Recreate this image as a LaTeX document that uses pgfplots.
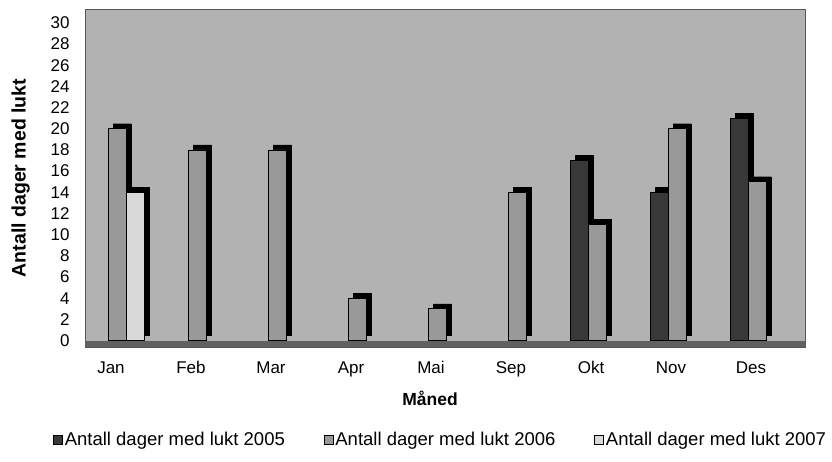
\documentclass[border=0pt]{standalone}
\usepackage{pgfplots}
\pgfplotsset{compat=1.18}
\usepackage{fontspec}
\setmainfont{Liberation Sans}
\definecolor{wallc}{gray}{0.70}
\definecolor{floorc}{gray}{0.38}
\definecolor{c05}{gray}{0.22}
\definecolor{c06}{gray}{0.60}
\definecolor{c07}{gray}{0.85}
\pgfplotsset{
  mylegend/.style={legend image code/.code={\draw[##1,line width=0.5pt] (0pt,-4pt) rectangle (9pt,5pt);}},
}
\begin{document}
\begin{tikzpicture}[x=1pt,y=1pt]
\path (0,0) rectangle (832,461);
\begin{axis}[
  at={(85pt,114pt)}, anchor=south west,
  scale only axis, width=720pt, height=338pt,
  xmin=-0.325, xmax=8.675, ymin=-0.6, ymax=31.3,
  xtick={0,...,8},
  xticklabels={Jan,Feb,Mar,Apr,Mai,Sep,Okt,Nov,Des},
  ytick={0,2,...,30},
  major tick length=0pt,
  axis line style={draw=gray!70!black, line width=0.6pt},
  axis background/.style={fill=wallc},
  tick label style={font=\fontsize{17}{20}\selectfont},
  /pgf/number format/assume math mode=true,
  yticklabel style={xshift=-12pt},
  xticklabel style={yshift=-11pt},
  xlabel={\fontsize{17.5}{20}\selectfont\bfseries Måned},
  ylabel={\fontsize{19.5}{22}\selectfont\bfseries Antall dager med lukt},
  xlabel style={xshift=-15pt, yshift=-7pt},
  ylabel style={yshift=14pt},
  legend columns=3,
  legend style={draw=none, fill=none, at={(0.494,-0.275)}, anchor=center,
    font=\fontsize{18.5}{22}\selectfont,
    /tikz/every even column/.append style={column sep=37pt}},
  legend cell align=left,
]
\fill[floorc] (axis cs:-0.325,-0.6) rectangle (axis cs:8.675,0);
% 2005
\addplot[ybar, bar width=18pt, bar shift=-12pt, fill=black, draw=black, xshift=5pt, yshift=5pt, forget plot]
  coordinates {(6,17) (7,14) (8,21)};
\addplot[ybar, bar width=18pt, bar shift=-12pt, fill=c05, draw=black, line width=0.8pt, mylegend]
  coordinates {(6,17) (7,14) (8,21)};
\addlegendentry{Antall dager med lukt 2005}
% 2006
\addplot[ybar, bar width=18pt, bar shift=6pt, fill=black, draw=black, xshift=5pt, yshift=5pt, forget plot]
  coordinates {(0,20) (1,18) (2,18) (3,4) (4,3) (5,14) (6,11) (7,20) (8,15)};
\addplot[ybar, bar width=18pt, bar shift=6pt, fill=c06, draw=black, line width=0.8pt, mylegend]
  coordinates {(0,20) (1,18) (2,18) (3,4) (4,3) (5,14) (6,11) (7,20) (8,15)};
\addlegendentry{Antall dager med lukt 2006}
% 2007
\addplot[ybar, bar width=18pt, bar shift=24pt, fill=black, draw=black, xshift=5pt, yshift=5pt, forget plot]
  coordinates {(0,14)};
\addplot[ybar, bar width=18pt, bar shift=24pt, fill=c07, draw=black, line width=0.8pt, mylegend]
  coordinates {(0,14)};
\addlegendentry{Antall dager med lukt 2007}
\end{axis}
\end{tikzpicture}
\end{document}
